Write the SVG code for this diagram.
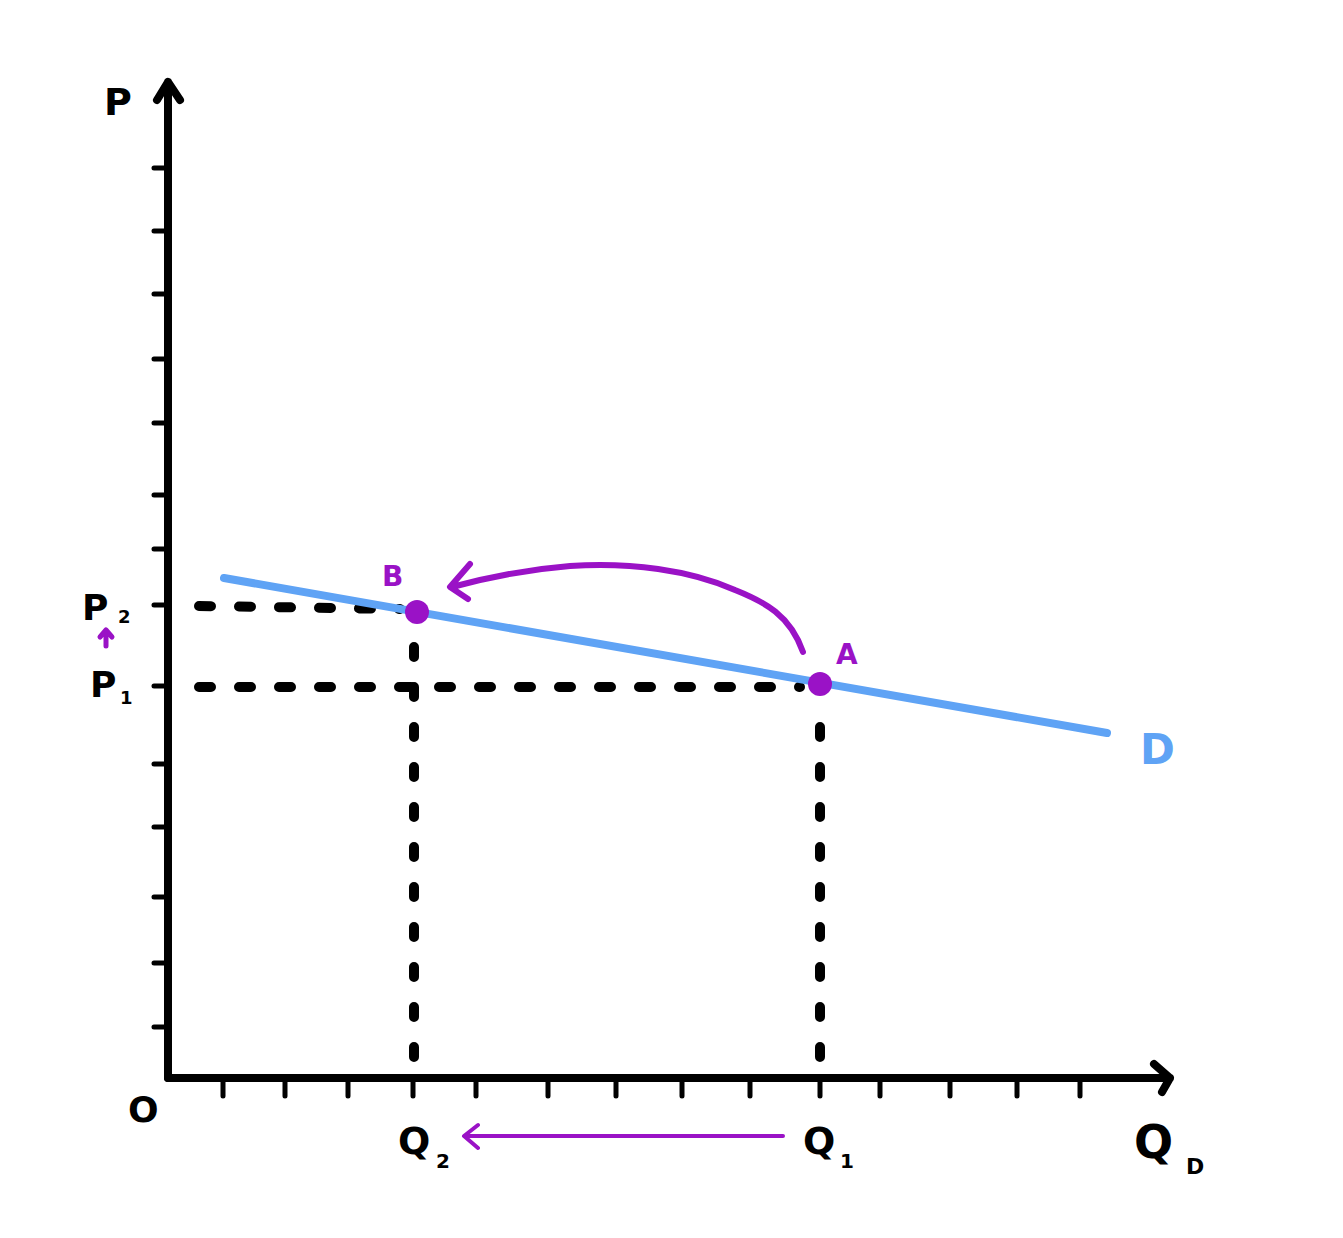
<svg xmlns="http://www.w3.org/2000/svg" width="1343" height="1238" viewBox="0 0 1343 1238">
<style>
.ax{stroke:#000;stroke-width:8;fill:none;stroke-linecap:round;stroke-linejoin:round}
.tk{stroke:#000;stroke-width:5;stroke-linecap:round}
.dh{stroke:#000;stroke-width:10;stroke-linecap:round;stroke-dasharray:12 28;fill:none}
.pu{stroke:#9a12c6;fill:none;stroke-linecap:round;stroke-linejoin:round}
.lb{font-family:"DejaVu Sans",sans-serif;font-weight:bold;fill:#000}
.lp{font-family:"DejaVu Sans",sans-serif;font-weight:bold;fill:#9a12c6}
</style>
<rect width="1343" height="1238" fill="#fff"/>
<g id="axes">
<path class="ax" d="M168,1078 L168,82 M157,100 L168,82 L180,100"/>
<path class="ax" d="M168,1078 L1170,1078 M1154,1064 L1170,1078 L1162,1092"/>
</g>
<g id="ticks">
<path class="tk" d="M154,168H168M154,231H168M154,294H168M154,359H168M154,423H168M154,495H168M154,549H168M154,605H168M154,686H168M154,764H168M154,827H168M154,897H168M154,963H168M154,1027H168"/>
<path class="tk" d="M223,1082V1096M285,1082V1096M348,1082V1096M413,1082V1096M476,1082V1096M548,1082V1096M616,1082V1096M682,1082V1096M750,1082V1096M820,1082V1096M880,1082V1096M950,1082V1096M1017,1082V1096M1080,1082V1096"/>
</g>
<g id="connectors">
<path class="dh" d="M199,606 L400,609"/>
<path class="dh" d="M199,687 L800,687"/>
<path class="dh" style="stroke-dasharray:10 30" d="M414,1057 L414,625"/>
<path class="dh" style="stroke-dasharray:10 30" d="M820,1057 L820,702"/>
<path class="pu" stroke-width="6" d="M803,652 C790,615 765,602 735,590 C690,570 630,562 570,566 C520,570 485,578 452,587 M470,564 L450,587 L468,599"/>
<path class="pu" stroke-width="4" d="M783,1136 L466,1136 M478,1125 L464,1136 L478,1148"/>
<path class="pu" stroke-width="5" d="M106,646 L106,631 M100,637 L106,630 L112,637"/>
</g>
<g id="demand">
<line x1="224" y1="578" x2="1107" y2="733" stroke="#5fa3f5" stroke-width="8" stroke-linecap="round"/>
<text x="1140" y="764" font-family="DejaVu Sans,sans-serif" font-weight="bold" font-size="42" fill="#5fa3f5">D</text>
</g>
<g id="pointB">
<circle cx="417" cy="612" r="12" fill="#9a12c6"/>
<text class="lp" x="382" y="586" font-size="28">B</text>
</g>
<g id="pointA">
<circle cx="820" cy="684" r="12" fill="#9a12c6"/>
<text class="lp" x="836" y="664" font-size="28">A</text>
</g>
<g id="labels">
<text class="lb" x="104" y="115" font-size="38">P</text>
<text class="lb" x="128" y="1122" font-size="36">O</text>
<text class="lb" x="82" y="620" font-size="36">P</text>
<text class="lb" x="118" y="623" font-size="18">2</text>
<text class="lb" x="90" y="697" font-size="36">P</text>
<text class="lb" x="120" y="704" font-size="18">1</text>
<text class="lb" x="398" y="1154" font-size="38">Q</text>
<text class="lb" x="436" y="1168" font-size="20">2</text>
<text class="lb" x="803" y="1154" font-size="38">Q</text>
<text class="lb" x="840" y="1168" font-size="20">1</text>
<text class="lb" x="1134" y="1158" font-size="46">Q</text>
<text class="lb" x="1186" y="1174" font-size="22">D</text>
</g>
</svg>
